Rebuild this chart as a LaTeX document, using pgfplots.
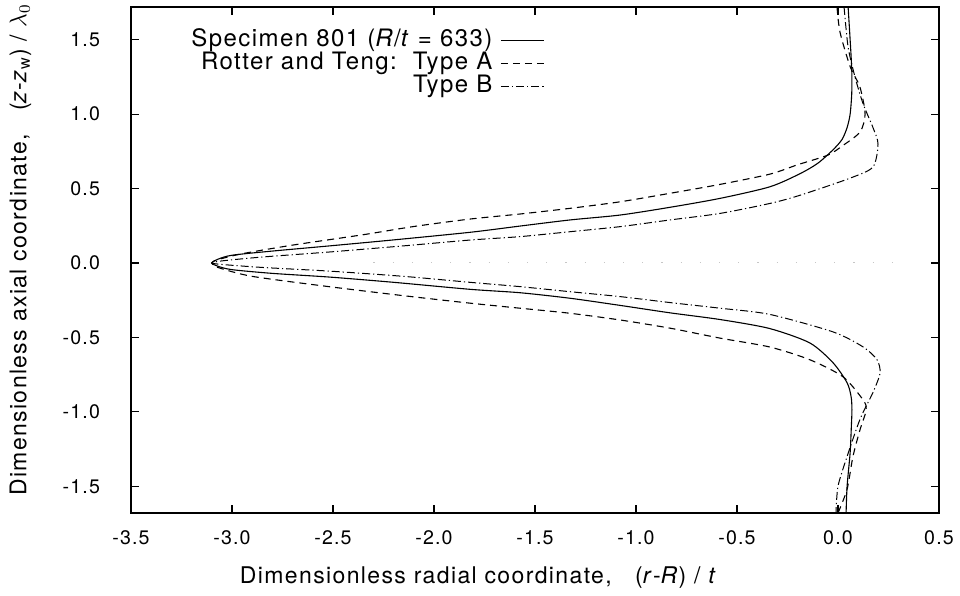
\documentclass[border=0pt]{standalone}
\usepackage{fontspec}
\setmainfont{TeX Gyre Heros}[LetterSpace=6]
\usepackage{pgfplots}
\pgfplotsset{compat=1.18}

\begin{document}
\begin{tikzpicture}[font=\fontsize{11.5}{13}\selectfont]
\begin{axis}[
  scale only axis,
  width=404pt, height=253pt,
  xmin=-3.5, xmax=0.5,
  ymin=-1.68, ymax=1.72,
  xtick={-3.5,-3,...,0.5},
  ytick={-1.5,-1,...,1.5},
  tick align=inside,
  major tick length=4pt,
  axis line style={line width=0.7pt},
  tick style={line width=0.6pt, black},
  tick label style={font=\fontsize{9.8}{11}\selectfont},
  /pgf/number format/.cd, fixed, fixed zerofill, precision=1, assume math mode=true,
  /pgfplots/.cd,
  xticklabel style={yshift=-5.5pt},
  yticklabel style={xshift=-12pt},
  xlabel={Dimensionless radial coordinate, \ \ (\textit{r}-\textit{R}) / \textit{t}},
  ylabel={Dimensionless axial coordinate, \ \ (\textit{z}-\textit{z}$_{\mathrm{w}}$) / $\lambda_0$},
  xlabel style={at={(axis description cs:0.43,-0.128)}, anchor=center},
  ylabel style={at={(axis description cs:-0.137,0.52)}, anchor=center},
  legend plot pos=right,
  legend cell align=right,
  legend style={draw=none, fill=none, at={(axis description cs:0.52,0.965)},
    anchor=north east, row sep=0pt, column sep=3pt, font=\fontsize{12}{13}\selectfont,
    nodes={inner sep=1pt, text height=7.5pt, text depth=2pt}},
  legend image code/.code={\draw[#1] (0cm,0cm) -- (0.76cm,0cm);},
]
% faint centre line
\addplot[gray!45, line width=0.5pt, dash pattern=on 0.6pt off 9pt, forget plot] coordinates {(-2.3,0) (0.3,0)};
% Specimen 801
\addplot[black, line width=0.55pt, smooth, tension=0.45] coordinates {
(0.05,1.72) (0.06,1.50) (0.068,1.30) (0.068,1.14) (0.06,1.00) (0.045,0.91)
(0.02,0.83) (-0.025,0.76) (-0.10,0.67) (-0.188,0.60) (-0.337,0.512) (-0.584,0.434)
(-0.832,0.374) (-1.079,0.322) (-1.327,0.289) (-1.574,0.248) (-1.822,0.206) (-2.2,0.155)
(-2.515,0.115) (-2.8,0.08) (-3.0,0.052) (-3.07,0.025) (-3.10,0.0)
(-3.07,-0.022) (-3.0,-0.045) (-2.8,-0.07) (-2.515,-0.095) (-2.2,-0.13) (-1.822,-0.177)
(-1.574,-0.20) (-1.327,-0.237) (-1.079,-0.285) (-0.832,-0.335) (-0.584,-0.38) (-0.34,-0.44)
(-0.14,-0.537) (-0.025,-0.67) (0.045,-0.805) (0.065,-0.90) (0.069,-0.987) (0.066,-1.10)
(0.06,-1.275) (0.045,-1.50) (0.04,-1.68)
};
\addlegendentry{Specimen 801 (\textit{R}/\textit{t} = 633)}
% Type A
\addplot[black, line width=0.55pt, dash pattern=on 3.5pt off 2.5pt, smooth, tension=0.45] coordinates {
(-0.005,1.72) (0.01,1.55) (0.06,1.32) (0.109,1.18) (0.134,1.00) (0.109,0.88)
(0.025,0.79) (-0.05,0.725) (-0.20,0.66) (-0.337,0.597) (-0.584,0.528) (-0.832,0.468)
(-1.079,0.411) (-1.327,0.367) (-1.574,0.329) (-1.822,0.295) (-2.10,0.245) (-2.35,0.19)
(-2.70,0.12) (-2.95,0.062) (-3.07,0.022) (-3.10,0.0)
(-3.07,-0.03) (-2.90,-0.09) (-2.515,-0.16) (-2.15,-0.22) (-1.822,-0.27) (-1.574,-0.304)
(-1.327,-0.338) (-1.079,-0.383) (-0.832,-0.438) (-0.584,-0.505) (-0.337,-0.565) (-0.14,-0.65)
(0.025,-0.765) (0.124,-0.92) (0.14,-0.987) (0.109,-1.12) (0.074,-1.30) (0.045,-1.52)
(0.0,-1.68)
};
\addlegendentry{Rotter and Teng:\ \ Type A}
% Type B
\addplot[black, line width=0.5pt, dash pattern=on 4pt off 1.5pt on 0.6pt off 1.5pt, smooth, tension=0.45] coordinates {
(0.03,1.72) (0.05,1.45) (0.084,1.25) (0.124,1.07) (0.173,0.91) (0.198,0.80)
(0.173,0.645) (0.06,0.57) (-0.188,0.455) (-0.337,0.40) (-0.584,0.333) (-0.832,0.289)
(-1.079,0.244) (-1.327,0.21) (-1.574,0.177) (-1.822,0.154) (-2.15,0.115) (-2.515,0.074)
(-2.85,0.04) (-3.05,0.014) (-3.10,0.0)
(-3.05,-0.01) (-2.85,-0.03) (-2.515,-0.055) (-2.15,-0.09) (-1.822,-0.13) (-1.574,-0.159)
(-1.327,-0.193) (-1.079,-0.226) (-0.832,-0.266) (-0.584,-0.304) (-0.34,-0.345) (-0.025,-0.463)
(0.124,-0.564) (0.193,-0.65) (0.208,-0.74) (0.173,-0.87) (0.109,-1.05) (0.045,-1.30)
(0.0,-1.50) (-0.01,-1.68)
};
\addlegendentry{Type B}
\end{axis}
\pgfresetboundingbox
\path (current axis.south west) ++(-65.5pt,-41.5pt) coordinate (bbl);
\path (current axis.north east) ++(10.5pt,3.5pt) coordinate (bbr);
\path[use as bounding box] (bbl) rectangle (bbr);
\end{tikzpicture}
\end{document}
